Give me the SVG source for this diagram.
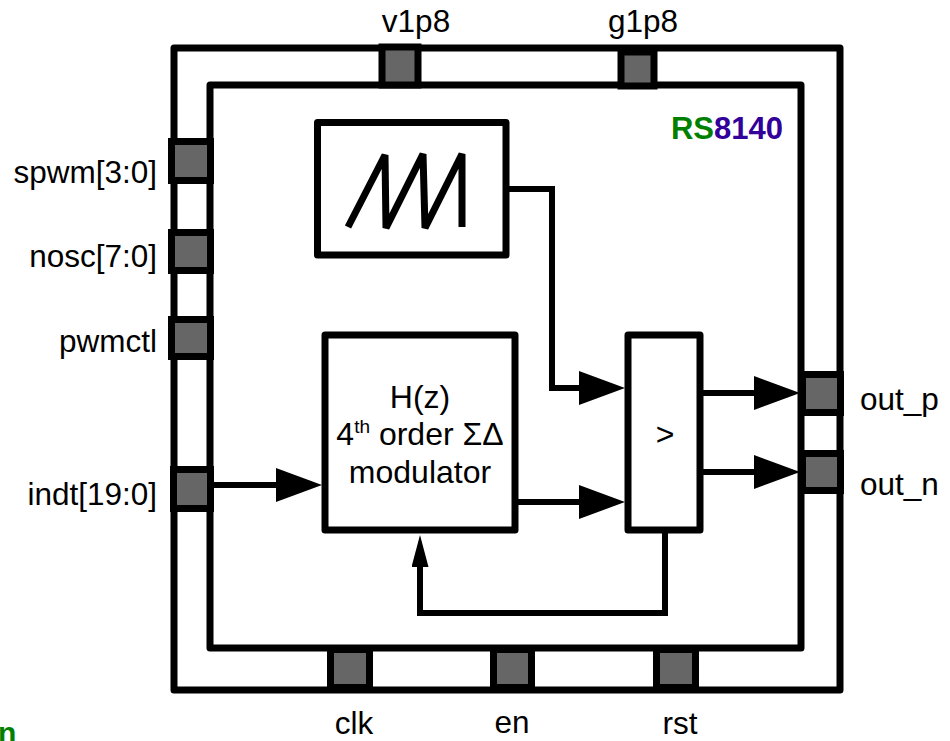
<svg xmlns="http://www.w3.org/2000/svg" width="950" height="741" viewBox="0 0 950 741">
  <style>
    .frame { fill: #ffffff; stroke: #000000; stroke-width: 7; stroke-linejoin: round; }
    .box { fill: #ffffff; stroke: #000000; stroke-width: 7; stroke-linejoin: round; }
    .pin { fill: #666666; stroke: #000000; stroke-width: 7; }
    .wire { fill: none; stroke: #000000; stroke-width: 6; }
    .lbl { font-family: "Liberation Sans", Arial, sans-serif; font-size: 31.5px; fill: #000000; }
    .inner { font-family: "Liberation Sans", Arial, sans-serif; font-size: 32px; fill: #000000; text-anchor: middle; }
    .brand { font-family: "Liberation Sans", Arial, sans-serif; font-size: 31px; font-weight: bold; }
  </style>
  <defs>
    <marker id="arrow" markerUnits="userSpaceOnUse" markerWidth="46" markerHeight="34" refX="26" refY="17" orient="auto" viewBox="0 0 46 34">
      <path d="M0,0 L46,17 L0,34 Z" fill="#000000"/>
    </marker>
    <marker id="arrowSmall" markerUnits="userSpaceOnUse" markerWidth="32" markerHeight="17" refX="17" refY="8.5" orient="auto" viewBox="0 0 32 17">
      <path d="M0,0 L32,8.5 L0,17 Z" fill="#000000"/>
    </marker>
  </defs>

  <g id="chip">
    <rect class="frame" x="174" y="48" width="666" height="642"/>
    <rect class="frame" x="210" y="85" width="591" height="563"/>
    <text class="brand" x="783" y="139" text-anchor="end"><tspan fill="#008000">RS</tspan><tspan fill="#330099">8140</tspan></text>
  </g>

  <g id="pin-v1p8">
    <rect class="pin" x="382" y="47" width="36" height="38"/>
    <text class="lbl" x="416" y="32" text-anchor="middle">v1p8</text>
  </g>
  <g id="pin-g1p8">
    <rect class="pin" x="621" y="52" width="33" height="34"/>
    <text class="lbl" x="643" y="32" text-anchor="middle">g1p8</text>
  </g>
  <g id="pin-spwm">
    <rect class="pin" x="171.5" y="141.5" width="39" height="39"/>
    <text class="lbl" x="157" y="183" text-anchor="end">spwm[3:0]</text>
  </g>
  <g id="pin-nosc">
    <rect class="pin" x="171.5" y="232.5" width="39" height="38"/>
    <text class="lbl" x="157" y="267" text-anchor="end">nosc[7:0]</text>
  </g>
  <g id="pin-pwmctl">
    <rect class="pin" x="171.5" y="319.5" width="39" height="37"/>
    <text class="lbl" x="157" y="352" text-anchor="end">pwmctl</text>
  </g>
  <g id="pin-indt">
    <rect class="pin" x="173.5" y="469.5" width="37" height="39"/>
    <text class="lbl" x="157" y="505" text-anchor="end">indt[19:0]</text>
  </g>
  <g id="pin-out_p">
    <rect class="pin" x="802.5" y="374.5" width="38" height="38"/>
    <text class="lbl" x="860" y="410">out_p</text>
  </g>
  <g id="pin-out_n">
    <rect class="pin" x="802.5" y="453.5" width="38" height="37"/>
    <text class="lbl" x="860" y="495">out_n</text>
  </g>
  <g id="pin-clk">
    <rect class="pin" x="330.5" y="649.5" width="39" height="38"/>
    <text class="lbl" x="354" y="734" text-anchor="middle">clk</text>
  </g>
  <g id="pin-en">
    <rect class="pin" x="493.5" y="649.5" width="38" height="38"/>
    <text class="lbl" x="512" y="733" text-anchor="middle">en</text>
  </g>
  <g id="pin-rst">
    <rect class="pin" x="656.5" y="649.5" width="39" height="38"/>
    <text class="lbl" x="680" y="734" text-anchor="middle">rst</text>
  </g>

  <g id="sawtooth">
    <rect class="box" x="317.5" y="122.5" width="188.5" height="132.5"/>
    <polyline points="348,227 385,155 386,228 423,154 425,228 462,154 462,227" fill="none" stroke="#000000" stroke-width="7" stroke-linejoin="bevel"/>
  </g>

  <g id="modulator">
    <rect class="box" x="325" y="335" width="190" height="195"/>
    <text class="inner" x="420" y="408">H(z)</text>
    <text class="inner" x="420" y="445">4<tspan font-size="19" dy="-12">th</tspan><tspan dy="12"> order ΣΔ</tspan></text>
    <text class="inner" x="420" y="483">modulator</text>
  </g>

  <g id="comparator">
    <rect class="box" x="628" y="335" width="72" height="195"/>
    <text class="inner" x="665" y="445">&gt;</text>
  </g>

  <g id="connectors">
    <path class="wire" d="M213,485 H302" marker-end="url(#arrow)"/>
    <path class="wire" d="M518,502 H605" marker-end="url(#arrow)"/>
    <path class="wire" d="M509,189 H552 V388 H605" marker-end="url(#arrow)"/>
    <path class="wire" d="M703,393 H780" marker-end="url(#arrow)"/>
    <path class="wire" d="M703,472 H780" marker-end="url(#arrow)"/>
    <path class="wire" d="M665,533 V613 H420 V550" marker-end="url(#arrowSmall)"/>
  </g>

  <text x="-2" y="743" font-family="Liberation Sans, Arial, sans-serif" font-size="30" font-weight="bold" fill="#008000">n</text>
</svg>
